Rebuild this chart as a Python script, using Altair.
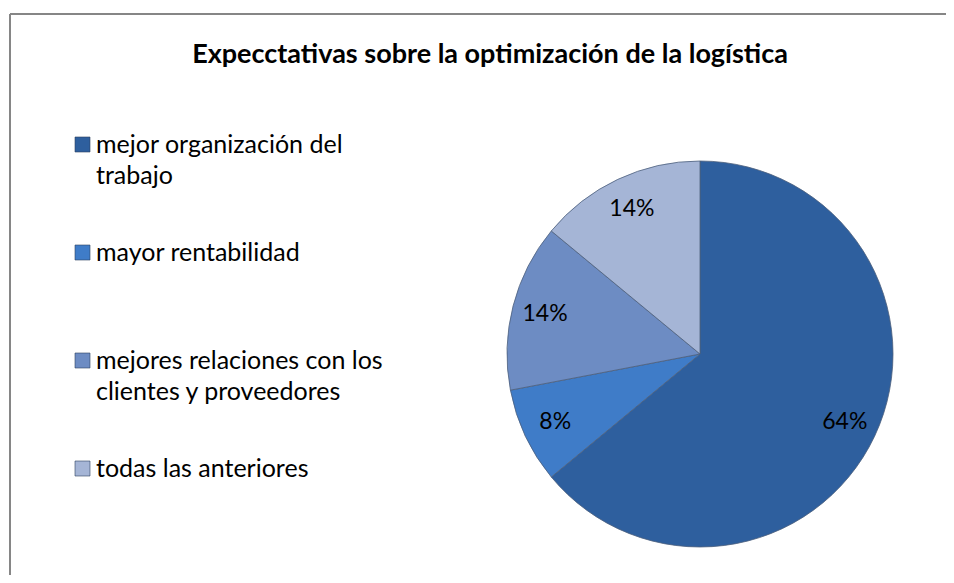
import altair as alt
import pandas as pd

# ---- data ----
categories = [
    "mejor organización del\ntrabajo",
    "mayor rentabilidad",
    "mejores relaciones con los\nclientes y proveedores",
    "todas las anteriores",
]
shares = [64, 8, 14, 14]
slice_colors = ["#2E5F9E", "#3F7CC8", "#6D8CC3", "#A5B5D6"]
title_text = "Expecctativas sobre la optimización de la logística"

df = pd.DataFrame({
    "categoria": categories,
    "porcentaje": shares,
    "orden": list(range(len(categories))),
})
df["etiqueta"] = df["porcentaje"].astype(str) + "%"

FONT = "Lato"
R = 193  # pie radius (view is 2R x 2R)

base = alt.Chart(df).encode(
    theta=alt.Theta("porcentaje:Q", stack=True),
    order=alt.Order("orden:Q"),
)

# every legend entry gets two lines so that the rows are evenly spaced
label_expr = "indexof(datum.label, '\\n') >= 0 ? split(datum.label, '\\n') : [datum.label, '']"

pie = base.mark_arc(outerRadius=R, stroke="#4d5f7c", strokeWidth=0.8).encode(
    color=alt.Color(
        "categoria:N",
        sort=categories,
        scale=alt.Scale(domain=categories, range=slice_colors),
        legend=alt.Legend(
            title=None,
            orient="none",
            legendX=-437,
            legendY=-29,
            symbolType="square",
            symbolSize=225,
            symbolStrokeColor="#2b3f5e",
            symbolStrokeWidth=0.6,
            symbolOpacity=1,
            labelFont=FONT,
            labelFontSize=25,
            labelColor="black",
            labelLimit=0,
            labelOffset=1,
            labelExpr=label_expr,
            rowPadding=51,
        ),
    )
)

labels = base.mark_text(radius=160, font=FONT, fontSize=23, color="black").encode(
    text="etiqueta:N"
)

frame_df = pd.DataFrame({"k": [0]})
top_rule = alt.Chart(frame_df).mark_rule(color="#868686", strokeWidth=2).encode(
    x=alt.value(-497), x2=alt.value(450), y=alt.value(-147)
)
left_rule = alt.Chart(frame_df).mark_rule(color="#868686", strokeWidth=2).encode(
    x=alt.value(-497), y=alt.value(-147), y2=alt.value(430)
)

chart = (
    alt.layer(top_rule, left_rule, pie, labels)
    .properties(
        width=2 * R,
        height=2 * R,
        title=alt.TitleParams(
            text=title_text,
            font=FONT,
            fontSize=27,
            fontWeight="bold",
            color="black",
            anchor="middle",
            frame="group",
            baseline="middle",
            dx=-210,
            offset=-69,
        ),
        autosize=alt.AutoSizeParams(type="none"),
        padding={"left": 499, "top": 153, "right": 53, "bottom": 28},
    )
    .configure(
        background="white",
        view=alt.ViewConfig(stroke="transparent", strokeWidth=0),
        style={"guide-label": {"lineHeight": 31}},
    )
)

chart.save("out.html", embed_options={"renderer": "svg", "actions": False})
